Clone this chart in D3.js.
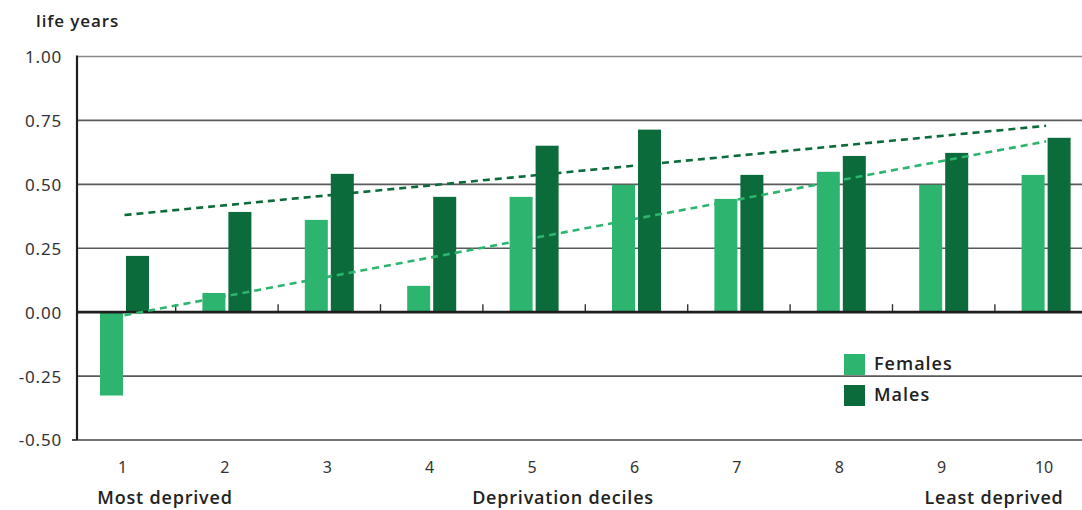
<!DOCTYPE html>
<html>
<head>
<meta charset="utf-8">
<script src="https://cdn.jsdelivr.net/npm/d3@7"></script>
<style>
  html, body { margin: 0; padding: 0; background: #fff; }
  svg { display: block; font-family: "Open Sans", "Noto Sans", sans-serif; }
</style>
</head>
<body>
<svg id="chart" width="1082" height="510"></svg>
<script>
// ---- data ----
const categories = ["1","2","3","4","5","6","7","8","9","10"];
const seriesNames = ["Females","Males"];
const females = [-0.326, 0.075, 0.361, 0.103, 0.451, 0.498, 0.443, 0.549, 0.498, 0.537];
const males   = [0.220, 0.392, 0.541, 0.451, 0.651, 0.714, 0.537, 0.611, 0.623, 0.682];
// trend line endpoints (at decile 1 and decile 10)
const femaleTrend = [-0.012, 0.668];
const maleTrend   = [0.380, 0.729];
const yTicks = [1.00, 0.75, 0.50, 0.25, 0.00, -0.25, -0.50];
const yTickLabels = ["1.00", "0.75", "0.50", "0.25", "0.00", "-0.25", "-0.50"];
const colors = { Females: "#2db46e", Males: "#0c6b3a" };

// ---- layout ----
const svg = d3.select("#chart");
const W = 1082;
const x = d3.scaleBand().domain(categories).range([73.3, 1097.3]).paddingInner(0).paddingOuter(0);
const xSub = d3.scaleBand().domain(seriesNames).range([26.7, 75.7]).paddingInner(0.1154).paddingOuter(0);
const y = d3.scaleLinear().domain([-0.5, 1.0]).range([440, 56.5]);
const axisX = 77;

// gridlines
const grid = svg.append("g");
yTicks.forEach(t => {
  if (t === 0) return;
  grid.append("line")
    .attr("x1", axisX).attr("x2", W)
    .attr("y1", y(t)).attr("y2", y(t))
    .attr("stroke", t === 1 ? "#8a8a8a" : (t === -0.5 ? "#444" : "#5a5a5a"))
    .attr("stroke-width", 1.6);
});

// y axis labels
const yAxis = d3.axisLeft(y).tickValues(yTicks).tickSize(0).tickPadding(0)
  .tickFormat((d, i) => yTickLabels[i]);
const yg = svg.append("g").attr("transform", `translate(${axisX - 15},0)`).call(yAxis);
yg.select(".domain").remove();
yg.selectAll("text").attr("font-size", 17).attr("fill", "#333").attr("dy", "0.35em")
  .attr("letter-spacing", "0.8px").attr("font-family", "Noto Sans, sans-serif");
// small tick at bottom
svg.append("line").attr("x1", axisX - 5).attr("x2", axisX).attr("y1", y(-0.5)).attr("y2", y(-0.5))
  .attr("stroke", "#222").attr("stroke-width", 1.6);

// bars
const data = categories.map((c, i) => ({ cat: c, Females: females[i], Males: males[i] }));
const groups = svg.append("g").selectAll("g").data(data).join("g")
  .attr("transform", d => `translate(${x(d.cat)},0)`);
groups.selectAll("rect").data(d => seriesNames.map(s => ({ s, v: d[s] }))).join("rect")
  .attr("x", d => xSub(d.s))
  .attr("width", xSub.bandwidth())
  .attr("y", d => y(Math.max(0, d.v)))
  .attr("height", d => Math.abs(y(d.v) - y(0)))
  .attr("fill", d => colors[d.s]);

// x category ticks (small marks up from zero line at band boundaries)
const bounds = categories.slice(1).map(c => x(c));
svg.append("g").selectAll("line").data(bounds).join("line")
  .attr("x1", d => d).attr("x2", d => d)
  .attr("y1", y(0) - 8).attr("y2", y(0))
  .attr("stroke", "#333").attr("stroke-width", 1.4);

// zero line
svg.append("line").attr("x1", axisX).attr("x2", W).attr("y1", y(0)).attr("y2", y(0))
  .attr("stroke", "#1e1e1e").attr("stroke-width", 2.8);

// y axis line
svg.append("line").attr("x1", axisX).attr("x2", axisX).attr("y1", y(1.0) - 1).attr("y2", y(-0.5))
  .attr("stroke", "#1e1e1e").attr("stroke-width", 2.2);

// trend lines
const xc = c => x(c) + x.bandwidth() / 2;
const trendLine = d3.line().x(d => xc(d[0])).y(d => y(d[1]));
const trends = [
  { s: "Males", pts: [[categories[0], maleTrend[0]], [categories[9], maleTrend[1]]] },
  { s: "Females", pts: [[categories[0], femaleTrend[0]], [categories[9], femaleTrend[1]]] }
];
svg.append("g").selectAll("path").data(trends).join("path")
  .attr("d", d => trendLine(d.pts))
  .attr("fill", "none")
  .attr("stroke", d => colors[d.s])
  .attr("stroke-width", 2.6)
  .attr("stroke-dasharray", "7,5");

// x labels
svg.append("g").selectAll("text").data(categories).join("text")
  .attr("x", d => xc(d) - 2).attr("y", 473)
  .attr("text-anchor", "middle").attr("font-size", 16).attr("fill", "#333")
  .attr("font-family", "Noto Sans, sans-serif")
  .text(d => d);

// axis titles
svg.append("text").attr("x", 36).attr("y", 27).attr("font-size", 17).attr("font-weight", 600)
  .attr("letter-spacing", "0.9px").attr("fill", "#222").text("life years");
const bottomTitles = [
  { t: "Most deprived", x: 165 },
  { t: "Deprivation deciles", x: 563 },
  { t: "Least deprived", x: 994 }
];
svg.append("g").selectAll("text").data(bottomTitles).join("text")
  .attr("x", d => d.x).attr("y", 504).attr("text-anchor", "middle")
  .attr("font-size", 18).attr("font-weight", 600).attr("fill", "#222")
  .attr("letter-spacing", "0.8px")
  .text(d => d.t);

// legend
const lg = svg.append("g").attr("transform", "translate(844,354)");
const li = lg.selectAll("g").data(seriesNames).join("g")
  .attr("transform", (d, i) => `translate(0,${i * 31})`);
li.append("rect").attr("width", 21).attr("height", 21).attr("fill", d => colors[d]);
li.append("text").attr("x", 30).attr("y", 16).attr("font-size", 18).attr("font-weight", 600)
  .attr("letter-spacing", "1px").attr("fill", "#222").text(d => d);
</script>
</body>
</html>
